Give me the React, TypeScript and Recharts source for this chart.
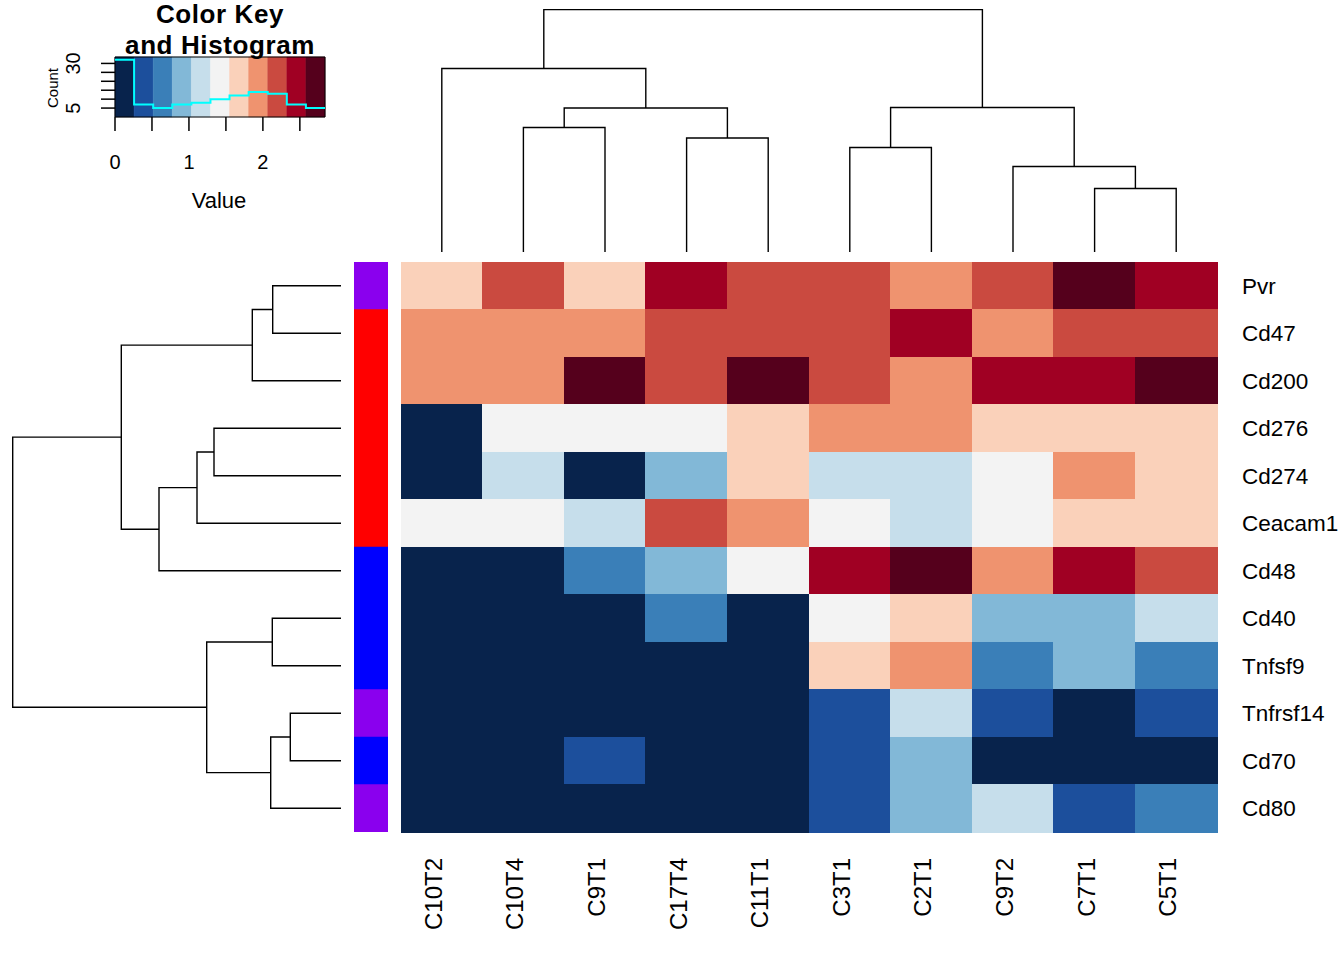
import React from "react";
import {
  BarChart,
  Bar,
  Cell,
  XAxis,
  YAxis,
  ScatterChart,
  Scatter,
  LineChart,
  Line,
  ReferenceArea,
} from "recharts";

const samples = ["C10T2", "C10T4", "C9T1", "C17T4", "C11T1", "C3T1", "C2T1", "C9T2", "C7T1", "C5T1"];
const genes = ["Pvr", "Cd47", "Cd200", "Cd276", "Cd274", "Ceacam1", "Cd48", "Cd40", "Tnfsf9", "Tnfrsf14", "Cd70", "Cd80"];

// expression values, one array per gene, columns in sample order
const pvr = [1.66, 2.19, 1.63, 2.47, 2.21, 2.17, 1.93, 2.24, 2.84, 2.41];
const cd47 = [1.94, 1.88, 1.97, 2.12, 2.2, 2.25, 2.39, 1.9, 2.16, 2.28];
const cd200 = [1.86, 1.99, 2.7, 2.3, 2.76, 2.14, 2.01, 2.52, 2.44, 2.65];
const cd276 = [0.05, 1.42, 1.37, 1.45, 1.7, 1.84, 1.92, 1.62, 1.75, 1.68];
const cd274 = [0.0, 1.18, 0.12, 0.86, 1.58, 1.12, 1.21, 1.33, 2.03, 1.73];
const ceacam1 = [1.4, 1.47, 1.26, 2.27, 1.83, 1.35, 1.09, 1.5, 1.57, 1.78];
const cd48 = [0.0, 0.02, 0.64, 0.92, 1.44, 2.36, 2.61, 1.98, 2.49, 2.31];
const cd40 = [0.0, 0.0, 0.08, 0.7, 0.15, 1.31, 1.64, 0.81, 0.97, 1.14];
const tnfsf9 = [0.0, 0.0, 0.0, 0.1, 0.04, 1.77, 1.89, 0.55, 0.89, 0.71];
const tnfrsf14 = [0.0, 0.0, 0.0, 0.0, 0.0, 0.33, 1.05, 0.47, 0.2, 0.41];
const cd70 = [0.0, 0.0, 0.38, 0.0, 0.0, 0.29, 0.85, 0.11, 0.06, 0.18];
const cd80 = [0.0, 0.0, 0.03, 0.0, 0.0, 0.44, 1.0, 1.23, 0.36, 0.6];

const values = [pvr, cd47, cd200, cd276, cd274, ceacam1, cd48, cd40, tnfsf9, tnfrsf14, cd70, cd80];

const sideColors = ["#8a00ee", "#ff0000", "#ff0000", "#ff0000", "#ff0000", "#ff0000", "#0000ff", "#0000ff", "#0000ff", "#8a00ee", "#0000ff", "#8a00ee"];

const palette = ["#08234c", "#1c4f9c", "#3a7fb8", "#82b8d7", "#c6deeb", "#f3f3f3", "#fad1ba", "#ef936f", "#ca4a40", "#a00023", "#55001c"];

// hclust-style merges: negative = leaf (display position), positive = earlier merge
const colMerges = [
  [-2, -3, 124.5],
  [-4, -5, 114],
  [1, 2, 144],
  [-1, 3, 183.5],
  [-6, -7, 104.5],
  [-9, -10, 63.5],
  [-8, 6, 85.5],
  [5, 7, 144.5],
  [4, 8, 242.5],
];
const rowMerges = [
  [-1, -2, 68.3],
  [1, -3, 88.7],
  [-4, -5, 127],
  [3, -6, 144],
  [4, -7, 182],
  [2, 5, 219.7],
  [-8, -9, 68.7],
  [-10, -11, 50.7],
  [8, -12, 70.3],
  [7, 9, 134.3],
  [6, 10, 328.3],
];

const countTicks = [5, 10, 15, 20, 25, 30];
const valueTicks = [0, 0.5, 1, 1.5, 2, 2.5];

const FONT = "'Liberation Sans', Arial, Helvetica, sans-serif";

const all = values.flat();
const lo = Math.min(...all);
const hi = Math.max(...all);
const step = (hi - lo) / palette.length;
const breaks = Array.from({ length: palette.length + 1 }, (_, k) => lo + k * step);
const binOf = (v: number) => Math.min(palette.length - 1, Math.floor((v - lo) / step));
const counts = palette.map((_, k) => all.filter((v) => binOf(v) === k).length);
const yTop = Math.max(...counts) * 1.05;
const histPoints = [
  ...counts.map((c, k) => ({ x: breaks[k], c })),
  { x: breaks[palette.length], c: counts[counts.length - 1] },
];

const heatRows = genes.map((g) => {
  const row: Record<string, string | number> = { gene: g, side: 1 };
  samples.forEach((s) => (row[s] = 1));
  return row;
});

type Pt = { p: number; h: number };
function dendroLinks(merges: number[][]) {
  const nodes: Pt[] = [];
  const get = (id: number): Pt => (id < 0 ? { p: -id - 0.5, h: 0 } : nodes[id - 1]);
  return merges.map(([a, b, h]) => {
    const A = get(a);
    const B = get(b);
    nodes.push({ p: (A.p + B.p) / 2, h });
    return [A, { p: A.p, h }, { p: B.p, h }, B];
  });
}
const colLinks = dendroLinks(colMerges).map((l) => l.map((q) => ({ x: q.p, y: q.h })));
const rowLinks = dendroLinks(rowMerges).map((l) => l.map((q) => ({ x: q.h, y: q.p })));
const colTicks = samples.map((_, i) => i + 0.5);

const noShape = () => <g />;
const lineStyle = { stroke: "#000", strokeWidth: 1.4, fill: "none" };

const SampleTick = (props: any) => {
  const { x, y, payload } = props;
  const name = samples[Math.floor(payload.value)];
  return (
    <text x={x} y={y} transform={`rotate(-90, ${x}, ${y})`} textAnchor="end" fontSize={24} fill="#000">
      {name}
    </text>
  );
};

const CountTick = (props: any) => {
  const { x, y, payload } = props;
  if (payload.value !== 5 && payload.value !== 30) return <g />;
  return (
    <text x={x} y={y} transform={`rotate(-90, ${x}, ${y})`} textAnchor="middle" fontSize={20} fill="#000">
      {payload.value}
    </text>
  );
};

export default function App() {
  return (
    <div style={{ position: "absolute", left: 0, top: 0, width: 1344, height: 960, background: "#fff", fontFamily: FONT }}>
      <div style={{ position: "absolute", left: 0, top: 0 }}>
        <LineChart width={340} height={220} data={histPoints} margin={{ top: 57, right: 15, bottom: 0, left: 55 }}>
          <XAxis
            type="number"
            dataKey="x"
            domain={[lo, hi]}
            ticks={valueTicks}
            interval={0}
            height={103}
            tickSize={14}
            tickMargin={24}
            axisLine={false}
            tickLine={{ stroke: "#000", strokeWidth: 1.5 }}
            tick={{ fill: "#000", fontSize: 20 }}
            tickFormatter={(v: number) => (Number.isInteger(v) ? String(v) : "")}
            label={{
              content: () => (
                <text x={219} y={208} textAnchor="middle" fontSize={22} fill="#000">
                  Value
                </text>
              ),
            }}
          />
          <YAxis
            type="number"
            domain={[0, yTop]}
            ticks={countTicks}
            interval={0}
            width={60}
            tickSize={14}
            tickMargin={21}
            axisLine={false}
            tickLine={{ stroke: "#000", strokeWidth: 1.5 }}
            tick={CountTick}
            label={{
              content: () => (
                <text x={58} y={88} transform="rotate(-90, 58, 88)" textAnchor="middle" fontSize={15} fill="#000">
                  Count
                </text>
              ),
            }}
          />
          {palette.map((c, k) => (
            <ReferenceArea key={c} x1={breaks[k]} x2={breaks[k + 1]} y1={0} y2={yTop} fill={c} fillOpacity={1} stroke={c} strokeWidth={0.5} />
          ))}
          <ReferenceArea x1={lo} x2={hi} y1={0} y2={yTop} fill="none" fillOpacity={0} stroke="#000" strokeWidth={1} />
          <Line type="stepAfter" dataKey="c" stroke="#00ffff" strokeWidth={2} dot={false} activeDot={false} isAnimationActive={false} />
        </LineChart>
      </div>

      <div
        style={{
          position: "absolute",
          left: 60,
          top: -1,
          width: 320,
          textAlign: "center",
          fontWeight: "bold",
          fontSize: 26,
          lineHeight: "31px",
          letterSpacing: "0.6px",
          color: "#000",
        }}
      >
        Color Key
        <br />
        and Histogram
      </div>

      <div style={{ position: "absolute", left: 401, top: 9 }}>
        <ScatterChart width={816} height={243} margin={{ top: 0, right: 0, bottom: 0, left: 0 }}>
          <XAxis type="number" dataKey="x" domain={[0, samples.length]} hide />
          <YAxis type="number" dataKey="y" domain={[0, 243]} hide />
          {colLinks.map((pts, i) => (
            <Scatter key={i} data={pts} line={lineStyle} shape={noShape} isAnimationActive={false} />
          ))}
        </ScatterChart>
      </div>

      <div style={{ position: "absolute", left: 12, top: 262 }}>
        <ScatterChart width={329} height={570} margin={{ top: 0, right: 0, bottom: 0, left: 0 }}>
          <XAxis type="number" dataKey="x" domain={[0, 329]} reversed hide />
          <YAxis type="number" dataKey="y" domain={[0, genes.length]} reversed hide />
          {rowLinks.map((pts, i) => (
            <Scatter key={i} data={pts} line={lineStyle} shape={noShape} isAnimationActive={false} />
          ))}
        </ScatterChart>
      </div>

      <div style={{ position: "absolute", left: 354, top: 262 }}>
        <BarChart layout="vertical" width={34} height={570} data={heatRows} margin={{ top: 0, right: 0, bottom: 0, left: 0 }} barCategoryGap={0}>
          <XAxis type="number" domain={[0, 1]} hide />
          <YAxis type="category" dataKey="gene" hide />
          <Bar dataKey="side" isAnimationActive={false}>
            {sideColors.map((c, i) => (
              <Cell key={i} fill={c} stroke={c} strokeWidth={0.5} />
            ))}
          </Bar>
        </BarChart>
      </div>

      <div style={{ position: "absolute", left: 401, top: 262 }}>
        <BarChart
          layout="vertical"
          width={943}
          height={690}
          data={heatRows}
          margin={{ top: 0, right: 0, bottom: 0, left: 0 }}
          barCategoryGap={0}
          barGap={0}
        >
          <XAxis
            type="number"
            domain={[0, samples.length]}
            ticks={colTicks}
            interval={0}
            height={120}
            tickSize={0}
            tickMargin={26}
            axisLine={false}
            tickLine={false}
            tick={SampleTick}
          />
          <YAxis
            type="category"
            dataKey="gene"
            orientation="right"
            width={127}
            interval={0}
            tickSize={0}
            tickMargin={25}
            axisLine={false}
            tickLine={false}
            tick={{ fill: "#000", fontSize: 22.5 }}
          />
          {samples.map((s, j) => (
            <Bar key={s} dataKey={s} stackId="h" isAnimationActive={false}>
              {genes.map((g, i) => {
                const c = palette[binOf(values[i][j])];
                return <Cell key={g} fill={c} stroke={c} strokeWidth={1} shapeRendering="crispEdges" />;
              })}
            </Bar>
          ))}
        </BarChart>
      </div>
    </div>
  );
}
